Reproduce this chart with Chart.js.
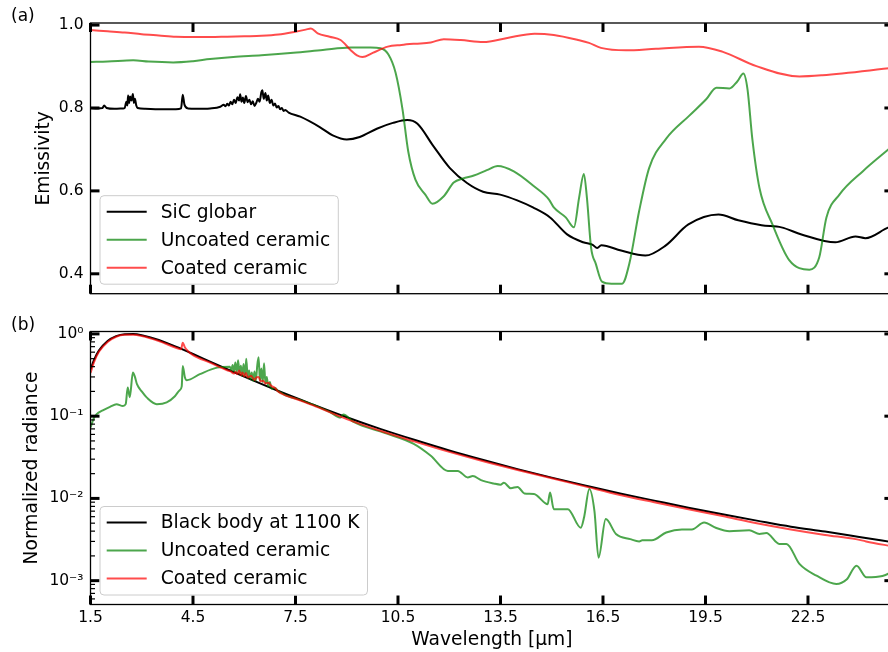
<!DOCTYPE html>
<html>
<head>
<meta charset="utf-8">
<script src="https://cdn.jsdelivr.net/npm/chart.js@4.4.1/dist/chart.umd.min.js"></script>
<style>
    html, body { margin: 0; padding: 0; overflow: hidden; background: #fff; }
    #wrap { position: relative; width: 888px; height: 652px; overflow: hidden; }
    canvas { position: absolute; left: 0; }
    #emis { top: 0; }
    #rad { top: 310px; }
</style>
</head>
<body>
<div id="wrap">
    <canvas id="emis" width="900" height="310"></canvas>
    <canvas id="rad" width="900" height="342"></canvas>
</div>
<script>
// ---- data ----
const xTicks = [1.5, 4.5, 7.5, 10.5, 13.5, 16.5, 19.5, 22.5];
const xTickLabels = ['1.5', '4.5', '7.5', '10.5', '13.5', '16.5', '19.5', '22.5'];
const emisTicks = [0.4, 0.6, 0.8, 1.0];
const radTicks = [0.001, 0.01, 0.1, 1];
const radTickLabels = ['10\u207B\u00B3', '10\u207B\u00B2', '10\u207B\u00B9', '10\u2070'];

// (a) emissivity
const wlSic = [1.5, 1.7, 1.85, 1.9, 1.97, 2.2, 2.45,
    2.5, 2.55, 2.58, 2.6, 2.63, 2.66, 2.7, 2.74, 2.77, 2.8, 2.84, 2.88,
    3.1, 3.5, 4.0, 4.15, 4.2, 4.25, 4.35, 4.6, 5.0,
    5.3, 5.4, 5.45, 5.5, 5.55, 5.6, 5.65, 5.7, 5.75, 5.8,
    5.85, 5.88, 5.92, 5.96, 6.0, 6.05, 6.1, 6.15, 6.2, 6.25,
    6.3, 6.35, 6.4, 6.45, 6.5, 6.53, 6.57, 6.62, 6.66, 6.7,
    6.75, 6.8, 6.85, 6.9, 6.95, 7.0, 7.05, 7.1, 7.15, 7.2,
    7.3, 7.64, 8.21, 8.59, 9.0, 9.38, 9.88, 10.35, 10.77, 11.07,
    11.52, 12.02, 12.52, 12.99, 13.49, 13.99, 14.45, 14.95, 15.45, 15.92,
    16.2, 16.33, 16.45, 17.03, 17.74, 18.33, 19.0, 19.88, 20.46, 21.14,
    21.72, 22.31, 23.3, 23.89, 24.18, 24.86, 25];
const sicGlobar = [0.800, 0.799, 0.800, 0.806, 0.800, 0.798, 0.799,
    0.800, 0.815, 0.806, 0.830, 0.812, 0.828, 0.818, 0.834, 0.812, 0.822, 0.806, 0.800,
    0.798, 0.797, 0.797, 0.799, 0.832, 0.808, 0.799, 0.798, 0.799,
    0.803, 0.808, 0.804, 0.810, 0.806, 0.815, 0.809, 0.820, 0.812, 0.826,
    0.818, 0.833, 0.815, 0.825, 0.812, 0.829, 0.814, 0.820, 0.809, 0.816,
    0.805, 0.812, 0.822, 0.815, 0.838, 0.843, 0.822, 0.836, 0.818, 0.830,
    0.812, 0.820, 0.806, 0.811, 0.801, 0.805, 0.797, 0.800, 0.793, 0.795,
    0.789, 0.779, 0.754, 0.734, 0.724, 0.730, 0.750, 0.764, 0.771, 0.762,
    0.710, 0.655, 0.619, 0.598, 0.591, 0.577, 0.560, 0.536, 0.495, 0.476,
    0.470, 0.462, 0.469, 0.456, 0.444, 0.468, 0.519, 0.543, 0.529, 0.517,
    0.512, 0.495, 0.476, 0.490, 0.486, 0.512, 0.515];

const wlUncoatedE = [1.5, 2.0, 2.75, 3.2, 3.92, 4.5, 5.0, 5.68, 6.5, 7.44, 8.3, 9.11, 9.7, 9.99, 10.22, 10.43, 10.63, 10.8, 11.01, 11.3,
    11.51, 11.84, 12.13, 12.4, 12.72, 13.1, 13.42, 13.89, 14.48, 14.92, 15.06, 15.41, 15.65, 15.8, 15.94, 16.03, 16.15, 16.29, 16.47, 16.75,
    17.06, 17.27, 17.56, 17.85, 18.35, 19.02, 19.52, 19.82, 20.2, 20.43, 20.61, 20.73, 20.87, 21.08, 21.46, 21.95, 22.54, 22.83, 23.04, 23.42,
    24.1, 25];
const uncoatedEmis = [0.911, 0.912, 0.915, 0.912, 0.910, 0.913, 0.918, 0.923, 0.927, 0.933, 0.940, 0.946, 0.946, 0.944, 0.929, 0.885, 0.798, 0.695, 0.627, 0.591,
    0.569, 0.587, 0.620, 0.630, 0.637, 0.650, 0.660, 0.647, 0.611, 0.579, 0.560, 0.536, 0.512, 0.583, 0.641, 0.583, 0.464, 0.424, 0.381, 0.376,
    0.376, 0.424, 0.552, 0.655, 0.726, 0.781, 0.821, 0.849, 0.847, 0.864, 0.883, 0.845, 0.726, 0.607, 0.519, 0.433, 0.410, 0.440, 0.536, 0.591,
    0.647, 0.710];

const wlCoatedE = [1.5, 2.0, 2.5, 3.0, 3.5, 4.0, 4.5, 5.0, 5.5, 6.0, 6.5, 7.0, 7.5, 7.8, 7.95, 8.15, 8.5, 8.82, 9.11, 9.3,
    9.46, 9.76, 10.2, 10.6, 11.0, 11.46, 11.84, 12.34, 13.0, 13.7, 14.5, 15.06, 15.77, 16.09, 16.44, 17.17, 18.05, 19.31, 19.99, 20.99,
    22.25, 22.92, 25];
const coatedEmis = [0.988, 0.985, 0.982, 0.978, 0.975, 0.972, 0.971, 0.971, 0.972, 0.973, 0.974, 0.977, 0.984, 0.989, 0.992, 0.980, 0.972, 0.964, 0.940, 0.927,
    0.923, 0.933, 0.948, 0.952, 0.955, 0.958, 0.966, 0.964, 0.959, 0.969, 0.979, 0.976, 0.964, 0.957, 0.945, 0.939, 0.943, 0.948, 0.936, 0.901,
    0.876, 0.879, 0.897];

// (b) normalized radiance
const wlBody = [1.5, 1.6, 1.75, 2.0, 2.25, 2.5, 2.75, 3.0, 3.5, 4.0, 4.5, 5.0, 5.5, 6.0, 7.0, 8.0, 9.0, 10, 11, 12,
    13, 14, 15, 16, 17, 18, 19, 20, 21, 22, 23, 24, 25];
const blackBody = [0.37, 0.48, 0.63, 0.82, 0.94, 0.99, 0.995, 0.965, 0.845, 0.70, 0.57, 0.46, 0.372, 0.302, 0.202, 0.139, 0.097, 0.0695, 0.0512, 0.0383,
    0.0293, 0.0227, 0.0179, 0.0143, 0.0115, 0.0094, 0.0077, 0.0064, 0.00537, 0.00453, 0.00395, 0.0034, 0.00292];

const wlUncoatedR = [1.5, 1.6, 1.68, 1.86, 2.07, 2.26, 2.45, 2.53, 2.59, 2.65,
    2.74, 2.8, 2.86, 3.0, 3.15, 3.44, 3.73, 3.97, 4.11, 4.17,
    4.2, 4.26, 4.32, 4.7, 5.2,
    5.58, 5.62, 5.66, 5.7, 5.74, 5.78, 5.82, 5.86, 5.9, 5.94,
    5.98, 6.02, 6.06, 6.1, 6.14, 6.18, 6.22, 6.26, 6.3, 6.34,
    6.38, 6.42, 6.46, 6.5, 6.54, 6.58, 6.62, 6.66, 6.7, 6.75,
    6.8, 6.9, 7.0, 7.1, 7.2, 7.4, 7.64,
    8.5, 8.82, 8.9, 9.2, 10.08, 10.96, 11.46, 11.96, 12.25, 12.54,
    12.69, 12.93, 13.3, 13.5, 13.6, 13.8, 14.0, 14.2, 14.48, 14.8,
    14.88, 14.95, 15.06, 15.47, 15.85, 15.95, 16.1, 16.25, 16.37, 16.58,
    16.88, 17.3, 17.56, 17.65, 17.93, 18.35, 18.81, 19.1, 19.46, 19.8,
    20.2, 20.78, 21.08, 21.28, 21.66, 21.87, 22.25, 22.75, 23.33, 23.63,
    23.92, 24.21, 24.68, 25];
const uncoatedRad = [0.073, 0.095, 0.106, 0.118, 0.130, 0.140, 0.133, 0.14, 0.223, 0.17,
    0.339, 0.30, 0.245, 0.20, 0.168, 0.14, 0.147, 0.175, 0.207, 0.23,
    0.408, 0.30, 0.274, 0.324, 0.389,
    0.40, 0.36, 0.42, 0.35, 0.45, 0.34, 0.48, 0.33, 0.41, 0.31,
    0.43, 0.31, 0.50, 0.29, 0.36, 0.28, 0.34, 0.27, 0.35, 0.27,
    0.41, 0.52, 0.27, 0.38, 0.26, 0.44, 0.25, 0.30, 0.23, 0.26,
    0.215, 0.22, 0.20, 0.19, 0.18, 0.168, 0.158,
    0.113, 0.096, 0.105, 0.085, 0.063, 0.046, 0.033, 0.0216, 0.0216, 0.018,
    0.0187, 0.0167, 0.0152, 0.0147, 0.0155, 0.0133, 0.0138, 0.0115, 0.0113, 0.0088,
    0.0085, 0.0118, 0.0074, 0.0074, 0.0044, 0.006, 0.013, 0.007, 0.0019, 0.0056,
    0.0037, 0.0032, 0.0030, 0.0031, 0.0031, 0.00385, 0.0042, 0.0042, 0.0051, 0.0044,
    0.0040, 0.0041, 0.0037, 0.0038, 0.0028, 0.0028, 0.0016, 0.00115, 0.00091, 0.00103,
    0.00152, 0.0011, 0.00114, 0.0013];

const wlCoatedR = [1.5, 1.6, 1.75, 2.0, 2.25, 2.5, 2.75, 3.0, 3.5, 4.0,
    4.15, 4.2, 4.26, 4.35, 4.5, 5.0,
    5.5, 5.6, 5.7, 5.75, 5.8, 5.85, 5.9, 5.95, 6.0, 6.05,
    6.1, 6.2, 6.3, 6.35, 6.42, 6.48, 6.55, 6.62, 6.7, 6.8,
    6.9, 7.0, 7.5, 8, 9, 10, 11, 12, 13, 14,
    15, 16, 17, 18, 19, 20, 21, 22, 23, 23.9,
    24.2, 25];
const coatedRad = [0.335, 0.45, 0.61, 0.80, 0.925, 0.975, 0.978, 0.945, 0.82, 0.68,
    0.65, 0.78, 0.69, 0.62, 0.553, 0.447,
    0.362, 0.35, 0.33, 0.345, 0.325, 0.36, 0.315, 0.34, 0.305, 0.335,
    0.295, 0.31, 0.275, 0.295, 0.30, 0.265, 0.27, 0.25, 0.255, 0.232,
    0.22, 0.198, 0.163, 0.136, 0.092, 0.066, 0.049, 0.0368, 0.0283, 0.0222,
    0.0176, 0.0139, 0.0110, 0.0090, 0.0074, 0.0061, 0.0050, 0.0042, 0.0036, 0.0032,
    0.0030, 0.0026];

// ---- styling ----
const FONT = 'DejaVu Sans';
const BLACK = '#000000';
const GREEN = 'rgba(0, 128, 0, 0.7)';
const RED = 'rgba(255, 0, 0, 0.7)';
const CANVAS_W = 900;
const PLOT_LEFT = 90.5;
const PLOT_RIGHT = 893.4;

Chart.defaults.font.family = FONT;
Chart.defaults.color = '#000';

const pts = (xs, ys) => xs.map((x, i) => ({ x: x, y: ys[i] }));

const series = (label, xs, ys, color, order) => ({
    label: label,
    data: pts(xs, ys),
    borderColor: color,
    backgroundColor: color,
    borderWidth: 2,
    pointRadius: 0,
    fill: false,
    cubicInterpolationMode: 'monotone',
    order: order,
});

// spines + inward ticks, matplotlib style
const framePlugin = {
    id: 'frame',
    afterDatasetsDraw(chart, args, opts) {
        const { ctx, chartArea: a, scales } = chart;
        const x = scales.x;
        const y = scales.y;
        const seg = (x0, y0, x1, y1) => {
            ctx.beginPath();
            ctx.moveTo(x0, y0);
            ctx.lineTo(x1, y1);
            ctx.stroke();
        };
        ctx.save();
        ctx.strokeStyle = '#000';
        ctx.lineWidth = 1.3;
        ctx.strokeRect(a.left, a.top, a.right - a.left, a.bottom - a.top);

        ctx.lineWidth = 3;
        x.ticks.forEach((t) => {
            const p = x.getPixelForValue(t.value);
            seg(p, a.bottom, p, a.bottom - 9);
            seg(p, a.top, p, a.top + 9);
        });
        y.ticks.forEach((t) => {
            const p = y.getPixelForValue(t.value);
            seg(a.left, p, a.left + 9, p);
            seg(a.right, p, a.right - 9, p);
        });

        if (opts.minor) {
            ctx.lineWidth = 1.2;
            for (let k = -4; k <= 0; k++) {
                for (let m = 2; m <= 9; m++) {
                    const v = m * Math.pow(10, k);
                    if (v <= y.min || v >= y.max) continue;
                    const p = y.getPixelForValue(v);
                    seg(a.left, p, a.left + 4.5, p);
                    seg(a.right, p, a.right - 4.5, p);
                }
            }
        }

        // panel letter
        ctx.fillStyle = '#000';
        ctx.font = '17px "' + FONT + '"';
        ctx.textBaseline = 'middle';
        ctx.textAlign = 'left';
        ctx.fillText(opts.panel, 11, opts.panelY);
        ctx.restore();
    },
};

// framed legend in the lower left corner of the axes
const boxLegend = {
    id: 'boxLegend',
    afterDraw(chart) {
        const { ctx, chartArea: a } = chart;
        const sets = chart.data.datasets;
        ctx.save();
        ctx.font = '18.67px "' + FONT + '"';
        const textW = Math.max(...sets.map((d) => ctx.measureText(d.label).width));
        const rowH = 28;
        const h = 16 + rowH * (sets.length - 1) + 16.5;
        const w = 60.7 + textW + 8;
        const x0 = a.left + 9.5;
        const y0 = a.bottom - 9.5 - h;

        ctx.beginPath();
        ctx.roundRect(x0, y0, w, h, 4);
        ctx.fillStyle = 'rgba(255, 255, 255, 0.8)';
        ctx.fill();
        ctx.strokeStyle = '#cccccc';
        ctx.lineWidth = 1;
        ctx.stroke();

        ctx.textBaseline = 'middle';
        ctx.textAlign = 'left';
        sets.forEach((d, i) => {
            const yy = y0 + 16 + i * rowH;
            ctx.strokeStyle = d.borderColor;
            ctx.lineWidth = 2;
            ctx.beginPath();
            ctx.moveTo(x0 + 6.7, yy);
            ctx.lineTo(x0 + 46.7, yy);
            ctx.stroke();
            ctx.fillStyle = '#000';
            ctx.fillText(d.label, x0 + 60.7, yy + 1);
        });
        ctx.restore();
    },
};

const setTicks = (values) => (scale) => {
    scale.ticks = values.map((v) => ({ value: v }));
};

// ---- (a) emissivity ----
new Chart(document.getElementById('emis'), {
    type: 'line',
    data: {
        datasets: [
            series('SiC globar', wlSic, sicGlobar, BLACK, 2),
            series('Uncoated ceramic', wlUncoatedE, uncoatedEmis, GREEN, 1),
            series('Coated ceramic', wlCoatedE, coatedEmis, RED, 0),
        ],
    },
    options: {
        responsive: false,
        animation: false,
        events: [],
        layout: { padding: { left: 0, top: 23, right: CANVAS_W - PLOT_RIGHT, bottom: 13 } },
        plugins: {
            legend: { display: false },
            tooltip: { enabled: false },
            frame: { panel: '(a)', panelY: 17, minor: false },
        },
        scales: {
            x: {
                type: 'linear',
                min: 1.5,
                max: 25,
                display: false,
                afterBuildTicks: setTicks(xTicks),
            },
            y: {
                type: 'linear',
                min: 0.352,
                max: 1.005,
                afterBuildTicks: setTicks(emisTicks),
                afterFit: (scale) => { scale.width = PLOT_LEFT; },
                grid: { display: false, drawTicks: false },
                border: { display: false },
                ticks: {
                    padding: 7,
                    font: { size: 15.5 },
                    callback: (v) => Number(v).toFixed(1),
                },
                title: {
                    display: true,
                    text: 'Emissivity',
                    font: { size: 18.67 },
                    padding: { top: 32.8, bottom: 0 },
                },
            },
        },
    },
    plugins: [framePlugin, boxLegend],
});

// ---- (b) normalized radiance ----
new Chart(document.getElementById('rad'), {
    type: 'line',
    data: {
        datasets: [
            series('Black body at 1100 K', wlBody, blackBody, BLACK, 2),
            series('Uncoated ceramic', wlUncoatedR, uncoatedRad, GREEN, 1),
            series('Coated ceramic', wlCoatedR, coatedRad, RED, 0),
        ],
    },
    options: {
        responsive: false,
        animation: false,
        events: [],
        layout: { padding: { left: 0, top: 21.5, right: CANVAS_W - PLOT_RIGHT, bottom: 0 } },
        plugins: {
            legend: { display: false },
            tooltip: { enabled: false },
            frame: { panel: '(b)', panelY: 16, minor: true },
        },
        scales: {
            x: {
                type: 'linear',
                min: 1.5,
                max: 25,
                afterBuildTicks: setTicks(xTicks),
                afterFit: (scale) => { scale.height = 342 - 294.5; },
                grid: { display: false, drawTicks: false },
                border: { display: false },
                ticks: {
                    padding: 4,
                    autoSkip: false,
                    maxRotation: 0,
                    font: { size: 15.5 },
                    callback: (v, i) => xTickLabels[i],
                },
                title: {
                    display: true,
                    text: 'Wavelength [\u03BCm]',
                    font: { size: 18.67 },
                    padding: { top: 0, bottom: 1 },
                },
            },
            y: {
                type: 'logarithmic',
                min: 5.13e-4,
                max: 1.07,
                afterBuildTicks: setTicks(radTicks),
                afterFit: (scale) => { scale.width = PLOT_LEFT; },
                grid: { display: false, drawTicks: false },
                border: { display: false },
                ticks: {
                    padding: 7,
                    font: { size: 15.5 },
                    callback: (v, i) => radTickLabels[i],
                },
                title: {
                    display: true,
                    text: 'Normalized radiance',
                    font: { size: 18.67 },
                    padding: { top: 21.3, bottom: 0 },
                },
            },
        },
    },
    plugins: [framePlugin, boxLegend],
});
</script>
</body>
</html>
